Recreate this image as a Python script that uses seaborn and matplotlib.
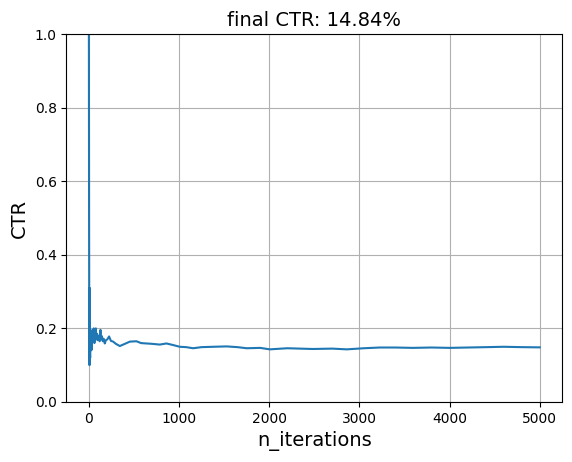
import matplotlib
matplotlib.use('Agg')
import matplotlib.pyplot as plt
import seaborn as sns
import pandas as pd

# cumulative CTR
n_iter = [1, 3, 5, 8, 10, 12, 15, 18, 22, 26, 30, 35, 40, 48, 55, 62, 70, 78,
          85, 92, 100, 110, 120, 129, 136, 144, 155, 165, 177, 190, 205, 225,
          245, 270, 300, 344, 400, 455, 528, 580, 640, 700, 787, 861, 930,
          1009, 1080, 1157, 1250, 1380, 1529, 1650, 1750, 1900, 2007, 2200,
          2483, 2700, 2860, 3050, 3226, 3400, 3592, 3800, 4002, 4200, 4412,
          4600, 4800, 5000]
ctr = [1.0, 0.5, 0.2, 0.10, 0.31, 0.15, 0.12, 0.19, 0.14, 0.18, 0.141, 0.19,
       0.196, 0.17, 0.2, 0.16, 0.18, 0.2, 0.17, 0.185, 0.168, 0.18, 0.165,
       0.196, 0.17, 0.179, 0.165, 0.172, 0.159, 0.168, 0.17, 0.178, 0.166,
       0.164, 0.158, 0.152, 0.158, 0.164, 0.165, 0.16, 0.159, 0.158, 0.156,
       0.159, 0.155, 0.150, 0.149, 0.146, 0.149, 0.150, 0.151, 0.149, 0.146,
       0.147, 0.143, 0.146, 0.144, 0.145, 0.143, 0.146, 0.148, 0.148, 0.147,
       0.148, 0.147, 0.148, 0.149, 0.150, 0.149, 0.1484]

df = pd.DataFrame({'n_iterations': n_iter, 'CTR': ctr})

fig = plt.figure(figsize=(5.72, 4.62), dpi=100)
ax = fig.add_axes([0.116, 0.130, 0.867, 0.796])
sns.lineplot(data=df, x='n_iterations', y='CTR', ax=ax, color='tab:blue', linewidth=1.5)
ax.set_ylim(0, 1)
ax.grid(True)
ax.set_xlabel('n_iterations', fontsize=14)
ax.set_ylabel('CTR', fontsize=14)
ax.set_title('final CTR: 14.84%', fontsize=14)
fig.savefig('out.png', dpi=100)
